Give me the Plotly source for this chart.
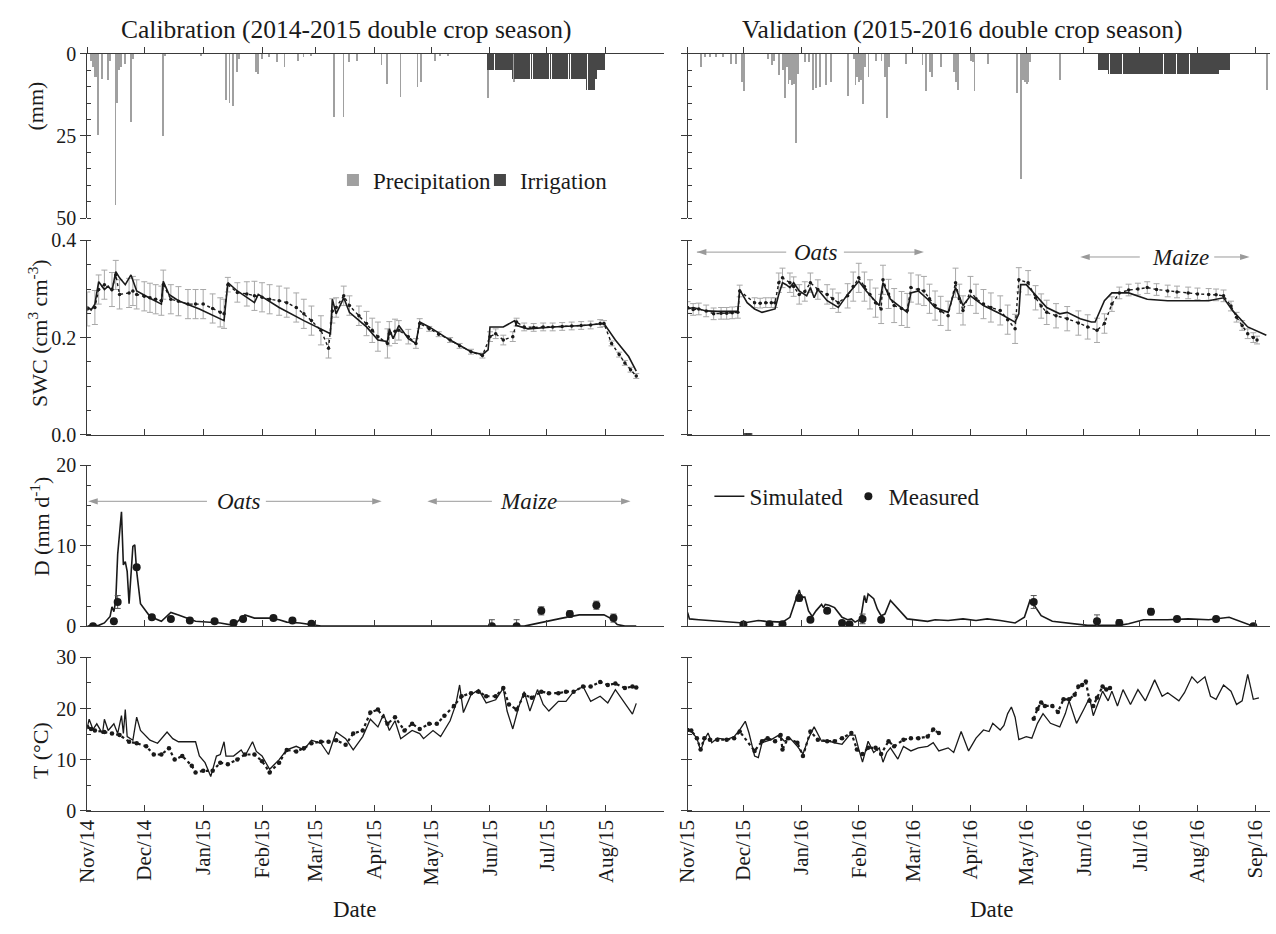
import pandas as pd
import plotly.graph_objects as go

SERIF = "Liberation Serif"
INK = "#1a1a1a"
AXIS = "#3a3a3a"
RAIN = "#a0a0a0"
IRRIG = "#474747"
ERR = "#a8a8a8"
ARROW = "#9a9a9a"

CAL_START, CAL_END = "2014-11-01", "2015-08-31 12:00"
VAL_START, VAL_END = "2015-11-01", "2016-09-09"

# ---------------- rainfall events: (day of season, mm) ----------------
cal_rain = [(2, 2.0), (3, 4.0), (4, 7.0), (5, 7.0), (6, 24.7), (8, 7.5), (11, 8.0), (12, 2.0),
            (15, 46.0), (16, 15.0), (17, 5.0), (18, 4.0), (20, 3.0), (23, 20.7), (24, 1.5),
            (40, 25.0), (41, 0.5), (60, 0.5), (73, 14.0), (75, 15.0), (77, 16.0), (79, 5.5),
            (80, 1.5), (89, 5.5), (90, 6.0), (92, 1.5), (96, 1.0), (100, 2.5), (104, 4.0),
            (111, 2.0), (114, 1.0), (118, 0.5), (130, 19.3), (135, 19.3), (138, 2.5), (142, 2.0),
            (155, 3.5), (158, 9.0), (165, 13.0), (174, 10.0), (176, 8.5), (183, 2.0), (186, 0.5),
            (190, 0.5), (211, 13.5), (225, 8.5)]
val_rain = [(7, 4.0), (9, 1.0), (12, 1.0), (15, 1.0), (19, 1.0), (23, 3.0), (26, 3.0), (29, 8.5),
            (30, 11.4), (43, 1.5), (45, 3.5), (46, 2.0), (49, 6.5), (51, 5.0), (52, 13.3), (53, 4.0),
            (54, 9.0), (55, 8.0), (56, 9.4), (57, 9.0), (58, 27.0), (59, 6.0), (63, 2.5), (65, 2.5),
            (67, 11.0), (69, 10.4), (71, 10.0), (74, 9.4), (77, 8.4), (86, 12.8), (89, 1.5),
            (90, 9.4), (91, 7.0), (92, 8.4), (93, 8.0), (94, 15.3), (95, 4.0), (97, 7.0), (101, 2.0),
            (104, 2.0), (106, 7.0), (107, 19.6), (108, 4.0), (117, 3.0), (126, 3.5), (128, 11.4),
            (130, 5.4), (131, 7.0), (136, 4.0), (143, 5.4), (144, 8.4), (145, 11.0), (152, 2.0),
            (153, 2.5), (154, 11.4), (161, 3.0), (177, 11.9), (179, 38.0), (180, 8.0), (181, 8.4),
            (182, 9.0), (183, 8.4), (184, 2.5), (200, 8.0), (311, 11.0)]

# ---------------- daily irrigation (mm), starting on the given day ----------------
cal_irr_first_day = 211
cal_irr_mm = [5, 5, 5, 5, 5, 5, 5, 5, 5, 5, 5, 5, 5,
              7.5, 7.5, 7.5, 7.5, 7.5, 7.5, 7.5, 7.5, 7.5, 7.5, 7.5, 7.5, 7.5, 7.5, 7.5, 7.5, 7.5,
              7.5, 7.5, 7.5, 7.5, 7.5, 7.5, 7.5, 7.5, 7.5, 7.5, 7.5, 7.5, 7.5, 7.5, 7.5, 7.5, 7.5,
              7.5, 7.5, 7.5, 7.5, 7.5,
              11, 11, 11, 11, 11, 7.5, 5, 5, 5, 5]
val_irr_first_day = 221
val_irr_mm = [5, 5, 5, 5, 5,
              6.1, 6.1, 6.1, 6.1, 6.1, 6.1, 6.1, 6.1, 6.1, 6.1, 6.1, 6.1, 6.1, 6.1, 6.1,
              6.1, 6.1, 6.1, 6.1, 6.1, 6.1, 6.1, 6.1, 6.1, 6.1, 6.1, 6.1, 6.1, 6.1, 6.1,
              6.1, 6.1, 6.1, 6.1, 6.1, 6.1, 6.1, 6.1, 6.1, 6.1, 6.1, 6.1, 6.1, 6.1, 6.1,
              6.1, 6.1, 6.1, 6.1, 6.1, 6.1, 6.1, 6.1, 6.1, 6.1, 6.1, 6.1, 6.1, 6.1, 6.1,
              5, 5, 5, 5, 5, 5]

# ---------------- soil water content (cm3 cm-3) ----------------
cal_swc_sim = [(0, .264), (2, .257), (4, .269), (6, .315), (9, .299), (11, .306), (13, .296),
               (15, .336), (17, .323), (20, .309), (23, .329), (26, .296), (33, .281), (39, .269),
               (40, .316), (43, .289), (48, .276), (59, .259), (72, .235), (74, .313), (79, .296),
               (88, .272), (90, .289), (101, .262), (114, .235), (128, .208), (129, .279),
               (131, .249), (135, .282), (138, .252), (147, .222), (153, .195), (158, .192),
               (159, .218), (161, .198), (164, .225), (169, .198), (173, .188), (175, .232),
               (180, .222), (191, .195), (202, .171), (208, .165), (211, .175), (212, .222),
               (219, .222), (225, .235), (226, .225), (232, .218), (245, .222), (261, .225),
               (272, .229), (278, .195), (285, .161), (289, .131)]
# (day, mean, standard deviation)
cal_swc_meas = [(0, .259, .035), (4, .262, .035), (6, .299, .03), (9, .309, .03), (13, .299, .035),
                (15, .329, .03), (17, .289, .03), (22, .292, .03), (24, .296, .03), (26, .289, .03),
                (30, .285, .03), (33, .282, .03), (36, .279, .03), (39, .276, .03), (40, .309, .03),
                (44, .279, .03), (48, .275, .03), (53, .269, .03), (57, .269, .03), (61, .269, .03),
                (66, .260, .03), (70, .252, .03), (72, .249, .03), (74, .309, .015), (79, .293, .02),
                (84, .290, .025), (88, .286, .03), (92, .283, .03), (96, .279, .03), (101, .276, .03),
                (105, .272, .03), (110, .262, .03), (114, .249, .03), (118, .235, .03),
                (123, .215, .03), (127, .178, .02), (129, .255, .025), (131, .262, .02),
                (135, .286, .02), (138, .266, .02), (143, .245, .02), (147, .229, .025),
                (150, .215, .025), (153, .202, .03), (158, .188, .03), (159, .208, .025),
                (162, .213, .025), (164, .215, .02), (169, .202, .015), (173, .188, .01),
                (175, .229, .01), (180, .218, .005), (185, .207, .005), (191, .195, .005),
                (196, .183, .005), (202, .171, .005), (208, .163, .005), (212, .202, .01),
                (215, .208, .01), (219, .195, .01), (224, .202, .01), (226, .232, .008),
                (230, .222, .008), (235, .221, .008), (240, .222, .008), (245, .222, .008),
                (250, .223, .008), (255, .224, .008), (260, .225, .008), (265, .226, .008),
                (270, .229, .008), (272, .229, .006), (276, .188, .005), (280, .165, .005),
                (283, .148, .005), (286, .134, .005), (289, .121, .005)]
val_swc_sim = [(0, .259), (3, .262), (10, .255), (16, .254), (27, .254), (28, .299), (32, .272),
               (36, .259), (40, .252), (47, .259), (49, .289), (51, .313), (53, .309), (55, .303),
               (57, .313), (60, .296), (64, .286), (66, .303), (68, .282), (70, .299), (75, .276),
               (81, .262), (86, .289), (92, .316), (96, .296), (103, .266), (105, .313), (109, .279),
               (118, .252), (120, .292), (124, .296), (129, .279), (133, .262), (140, .252),
               (144, .303), (148, .266), (152, .286), (159, .266), (168, .249), (176, .232),
               (178, .249), (179, .309), (182, .309), (185, .296), (193, .262), (200, .249),
               (204, .252), (211, .239), (217, .232), (219, .232), (224, .276), (228, .292),
               (237, .292), (247, .279), (258, .276), (280, .276), (288, .282), (293, .255),
               (301, .222), (311, .205)]
val_swc_meas = [(0, .262, .012), (3, .258, .012), (6, .259, .012), (10, .255, .012), (14, .249, .012),
                (18, .250, .012), (21, .250, .012), (24, .251, .012), (27, .252, .012), (28, .296, .012),
                (36, .272, .01), (39, .271, .01), (42, .272, .01), (45, .272, .01), (47, .272, .01),
                (49, .313, .02), (51, .323, .02), (55, .313, .02), (57, .305, .02), (60, .289, .02),
                (63, .295, .02), (66, .313, .02), (70, .299, .02), (75, .289, .02), (78, .280, .02),
                (81, .272, .02), (86, .286, .025), (89, .305, .03), (92, .323, .03), (95, .305, .03),
                (98, .289, .03), (101, .272, .03), (104, .259, .03), (105, .319, .03), (108, .290, .03),
                (111, .266, .035), (115, .260, .035), (118, .256, .035), (120, .303, .03),
                (124, .299, .03), (127, .296, .03), (130, .280, .03), (133, .266, .03),
                (136, .255, .03), (140, .245, .03), (144, .313, .03), (146, .280, .03),
                (148, .256, .03), (152, .296, .03), (155, .280, .03), (159, .269, .03),
                (163, .262, .03), (168, .256, .03), (172, .237, .03), (176, .218, .03),
                (178, .319, .025), (183, .313, .025), (187, .282, .025), (190, .265, .025),
                (193, .252, .025), (198, .245, .025), (204, .239, .025), (210, .230, .025),
                (215, .222, .025), (220, .215, .025), (224, .229, .02), (228, .269, .015),
                (232, .292, .012), (237, .298, .012), (242, .300, .012), (247, .303, .012),
                (252, .299, .012), (258, .296, .012), (263, .294, .012), (269, .292, .012),
                (274, .290, .012), (280, .289, .012), (284, .288, .012), (288, .286, .012),
                (292, .265, .01), (295, .242, .01), (298, .225, .01), (301, .208, .01),
                (304, .200, .01), (306, .195, .008)]
# sensor outage logged as zero
val_swc_zero_days = [31, 32, 33, 34]

# ---------------- drainage (mm d-1) ----------------
cal_d_sim = [(0, 0), (6, 0.1), (9, 0.4), (12, 1.2), (13, 2.4), (14, 1.8), (15, 3.2), (16, 8.9),
             (18, 14.2), (19, 7.6), (20, 8.0), (21, 6.8), (22, 2.8), (24, 9.9), (25, 10.1),
             (26, 6.8), (28, 2.8), (33, 1.2), (39, 0.6), (44, 1.7), (48, 1.4), (57, 0.6), (70, 0.4),
             (77, 0.1), (81, 1.0), (83, 1.4), (88, 1.0), (96, 1.0), (101, 0.8), (105, 0.5),
             (112, 0.4), (123, 0), (230, 0), (241, 0.6), (250, 1.0), (259, 1.4), (272, 1.4),
             (276, 0.9), (279, 0.2), (283, 0), (289, 0)]
cal_d_meas = [(3, 0.0, 0), (14, 0.6, 0), (16, 3.0, 0.8), (26, 7.3, 0), (34, 1.1, 0.2), (44, 0.9, 0),
              (54, 0.7, 0), (67, 0.6, 0), (77, 0.4, 0), (82, 0.9, 0), (98, 1.0, 0), (108, 0.7, 0),
              (118, 0.3, 0), (213, 0.0, 0.8), (226, 0.0, 0.8), (239, 1.9, 0.5), (254, 1.5, 0.4),
              (268, 2.6, 0.5), (277, 1.0, 0.5)]
val_d_sim = [(0, 1.7), (1, 0.9), (6, 0.8), (21, 0.6), (30, 0.4), (38, 0.7), (42, 0.6), (51, 0.5),
             (55, 1.1), (58, 3.2), (60, 4.5), (61, 3.6), (63, 3.6), (65, 1.9), (67, 1.2), (69, 1.9),
             (72, 2.7), (73, 2.3), (74, 2.7), (76, 2.6), (79, 2.3), (83, 1.1), (86, 0.8), (88, 0.9),
             (90, 0.5), (93, 0.9), (95, 3.8), (96, 2.9), (97, 4.0), (100, 3.4), (102, 2.1),
             (104, 1.3), (106, 1.5), (109, 3.2), (114, 1.9), (118, 0.9), (129, 0.6), (133, 0.8),
             (140, 0.7), (148, 0.9), (155, 0.7), (161, 0.9), (168, 0.7), (176, 0.4), (181, 1.1),
             (184, 3.2), (186, 2.7), (190, 1.3), (196, 0.6), (206, 0.3), (215, 0.1), (232, 0.1),
             (237, 0.3), (245, 0.8), (258, 0.8), (269, 0.9), (280, 0.8), (291, 1.1), (297, 0.6),
             (304, 0.0), (306, 0.0)]
val_d_meas = [(30, 0.2, 0), (44, 0.25, 0), (51, 0.25, 0), (60, 3.5, 0.4), (66, 0.8, 0),
              (75, 1.9, 0.3), (83, 0.4, 0), (87, 0.25, 0), (94, 0.9, 0.6), (104, 0.8, 0),
              (186, 3.0, 0.8), (220, 0.6, 0.8), (232, 0.4, 0.4), (249, 1.8, 0.4), (263, 0.9, 0.3),
              (284, 0.9, 0.3), (304, 0.0, 0)]

# ---------------- soil temperature (deg C) ----------------
cal_t_sim = [(0, 16.4), (1, 17.9), (3, 15.9), (5, 17.0), (8, 15.1), (9, 17.9), (11, 15.7),
             (14, 17.0), (16, 15.1), (18, 18.6), (19, 15.1), (20, 19.8), (21, 14.5), (24, 13.8),
             (26, 18.3), (28, 15.7), (33, 13.8), (37, 13.2), (42, 15.4), (45, 14.1), (48, 13.5),
             (57, 13.5), (59, 10.7), (62, 9.4), (65, 6.7), (68, 10.7), (70, 11.0), (72, 13.5),
             (73, 10.7), (77, 10.7), (81, 11.9), (83, 10.7), (87, 13.5), (89, 11.6), (92, 10.7),
             (96, 8.1), (101, 10.0), (105, 11.9), (110, 12.6), (114, 11.9), (118, 13.8),
             (123, 13.2), (127, 11.0), (131, 15.4), (136, 14.1), (140, 11.9), (145, 14.5),
             (149, 17.9), (153, 16.4), (156, 18.9), (159, 15.7), (162, 17.6), (165, 14.1),
             (171, 15.7), (175, 15.1), (177, 14.1), (182, 15.7), (186, 14.5), (191, 17.6),
             (194, 20.8), (196, 24.6), (198, 19.2), (202, 22.7), (206, 23.7), (210, 21.1),
             (215, 21.7), (219, 24.0), (221, 19.5), (224, 16.0), (227, 20.2), (230, 23.3),
             (233, 19.5), (237, 23.7), (240, 20.8), (243, 19.5), (248, 21.4), (252, 21.4),
             (256, 23.3), (261, 24.3), (265, 21.4), (270, 22.4), (274, 21.1), (278, 23.7),
             (283, 21.1), (287, 18.9), (289, 21.0)]
cal_t_meas = [(0, 16.4), (2, 16.0), (4, 15.7), (9, 15.4), (13, 15.1), (17, 14.8), (22, 13.5),
              (26, 13.2), (31, 12.6), (35, 11.0), (39, 11.0), (43, 12.2), (46, 10.0), (50, 10.7),
              (55, 8.8), (57, 7.5), (61, 7.8), (66, 7.8), (70, 9.4), (74, 9.1), (79, 10.0),
              (83, 11.0), (88, 11.0), (92, 9.7), (96, 7.5), (101, 9.4), (105, 11.9), (110, 11.6),
              (114, 12.2), (118, 13.2), (123, 13.5), (127, 13.5), (131, 13.8), (136, 12.9),
              (140, 15.1), (145, 15.7), (149, 19.2), (153, 19.8), (158, 17.0), (162, 18.3),
              (167, 15.7), (171, 17.0), (175, 16.0), (180, 17.0), (184, 17.0), (188, 18.6),
              (193, 20.5), (197, 22.4), (202, 23.0), (206, 23.3), (210, 22.4), (215, 22.4),
              (219, 24.0), (222, 20.8), (226, 19.8), (230, 22.7), (234, 22.1), (239, 23.3),
              (243, 23.0), (248, 23.0), (252, 23.3), (256, 23.3), (261, 24.3), (265, 24.3),
              (270, 25.2), (274, 24.6), (278, 24.9), (283, 24.0), (287, 24.3), (289, 24.1)]
val_t_sim = [(0, 15.8), (2, 15.5), (5, 14.2), (7, 11.7), (9, 13.9), (11, 15.2), (13, 13.3),
             (16, 14.2), (21, 13.9), (25, 14.5), (28, 15.8), (31, 17.5), (33, 15.2), (36, 10.7),
             (38, 10.4), (40, 13.3), (45, 13.9), (49, 14.8), (52, 13.6), (55, 14.2), (59, 12.6),
             (62, 11.1), (65, 14.2), (68, 16.4), (72, 13.6), (76, 13.6), (79, 13.3), (83, 13.0),
             (87, 14.8), (90, 14.8), (92, 12.0), (94, 9.5), (97, 13.6), (100, 11.4), (103, 12.3),
             (105, 9.5), (107, 11.4), (109, 12.3), (113, 10.1), (116, 12.6), (120, 11.7),
             (124, 12.3), (129, 12.6), (132, 13.3), (135, 11.7), (140, 12.3), (143, 11.4),
             (147, 15.5), (151, 11.7), (155, 14.2), (159, 15.8), (162, 15.5), (164, 17.1),
             (168, 15.8), (170, 16.7), (172, 19.0), (174, 20.3), (176, 18.3), (178, 13.9),
             (182, 14.5), (185, 14.2), (188, 17.1), (191, 19.0), (195, 17.1), (200, 16.4),
             (203, 19.0), (205, 21.5), (209, 17.1), (213, 19.9), (216, 22.1), (218, 18.6),
             (223, 23.4), (226, 21.5), (228, 23.4), (231, 20.5), (234, 23.7), (238, 20.8),
             (242, 23.7), (246, 21.5), (251, 25.6), (255, 22.4), (258, 23.1), (264, 21.5),
             (267, 23.1), (271, 26.2), (274, 25.0), (278, 26.2), (281, 22.4), (284, 21.8),
             (288, 24.6), (292, 23.4), (295, 20.8), (298, 21.5), (301, 26.7), (304, 21.8),
             (307, 22.1)]
# two logging campaigns
val_t_meas = [
    [(0, 15.8), (2, 15.7), (5, 14.2), (7, 12.0), (9, 14.2), (12, 13.9), (16, 13.9), (21, 13.9),
     (25, 14.2), (28, 15.5), (36, 11.7), (40, 13.6), (43, 14.2), (47, 13.6), (50, 14.8),
     (51, 12.0), (54, 14.2), (59, 13.3), (62, 10.7), (66, 15.5), (70, 13.9), (75, 13.6),
     (79, 13.6), (83, 14.2), (88, 15.2), (91, 12.0), (94, 11.1), (97, 12.3), (101, 12.3),
     (104, 11.1), (108, 13.6), (111, 12.6), (116, 13.9), (120, 14.2), (124, 14.2), (129, 14.5),
     (132, 15.9), (135, 15.2)],
    [(186, 18.0), (188, 19.9), (190, 21.2), (192, 20.5), (196, 20.5), (199, 19.3), (202, 21.8),
     (205, 21.8), (208, 22.7), (210, 24.3), (212, 24.6), (214, 25.3), (216, 21.5), (218, 20.5),
     (220, 22.1), (223, 24.3), (225, 23.7), (227, 24.0)],
]

# ---------------- crop-period arrows: (from day, to day) and level ----------------
cal_crop_arrows = [(63, 0.5), (94, 155), (213, 179), (246, 286)]
cal_crop_arrow_level = 15.5
val_oats_arrows = [(53, 5), (84, 127)]
val_oats_level = 0.376
val_maize_arrows = [(243, 211), (283, 302)]
val_maize_level = 0.366


def on_days(start, days):
    return pd.Timestamp(start) + pd.to_timedelta(list(days), unit="D")


def cols(rows):
    return [list(c) for c in zip(*rows)]


DAY_MS = 86400000
fig = go.Figure()


def axis_ids(row, col):
    n = (row - 1) * 2 + col
    s = "" if n == 1 else str(n)
    return "x" + s, "y" + s


def add_rain(col, start, rain, irr_first, irr_mm, legend):
    xa, ya = axis_ids(1, col)
    d, mm = cols(rain)
    fig.add_trace(go.Bar(x=on_days(start, d), y=mm, width=0.45 * DAY_MS, marker_color=RAIN,
                         marker_line_width=0, name="Precipitation", xaxis=xa, yaxis=ya,
                         showlegend=legend, legendgroup="p"))
    irr_days = range(irr_first, irr_first + len(irr_mm))
    fig.add_trace(go.Bar(x=on_days(start, irr_days), y=irr_mm, width=0.42 * DAY_MS,
                         marker_color=IRRIG, marker_line_width=0, name="Irrigation",
                         xaxis=xa, yaxis=ya, showlegend=legend, legendgroup="i"))


def add_sim(row, col, start, rows, legend=False, width=1.6):
    xa, ya = axis_ids(row, col)
    d, v = cols(rows)
    fig.add_trace(go.Scatter(x=on_days(start, d), y=v, mode="lines",
                             line=dict(color=INK, width=width), name="Simulated",
                             xaxis=xa, yaxis=ya, showlegend=legend, legend="legend2"))


def add_meas_err(row, col, start, rows, size, err_color, dotted=False, legend=False):
    xa, ya = axis_ids(row, col)
    d, v, e = cols(rows)
    fig.add_trace(go.Scatter(x=on_days(start, d), y=v,
                             mode="lines+markers" if dotted else "markers",
                             line=dict(color=INK, width=1.4, dash="dot"),
                             marker=dict(color=INK, size=size),
                             error_y=dict(type="data", array=e, color=err_color, thickness=1,
                                          width=3),
                             name="Measured", xaxis=xa, yaxis=ya, showlegend=legend,
                             legend="legend2"))


def add_meas_plain(row, col, start, rows):
    xa, ya = axis_ids(row, col)
    d, v = cols(rows)
    fig.add_trace(go.Scatter(x=on_days(start, d), y=v, mode="lines+markers",
                             line=dict(color=INK, width=2.2, dash="dot"),
                             marker=dict(color=INK, size=4.5), xaxis=xa, yaxis=ya,
                             showlegend=False))


def add_arrows(row, col, start, spans, level):
    xa, ya = axis_ids(row, col)
    for d0, d1 in spans:
        fig.add_trace(go.Scatter(x=on_days(start, [d0, d1]), y=[level, level],
                                 mode="lines+markers", line=dict(color=ARROW, width=1),
                                 marker=dict(symbol="arrow", angleref="previous", size=10,
                                             color=ARROW),
                                 xaxis=xa, yaxis=ya, showlegend=False, hoverinfo="skip"))


# precipitation / irrigation
add_rain(1, CAL_START, cal_rain, cal_irr_first_day, cal_irr_mm, True)
add_rain(2, VAL_START, val_rain, val_irr_first_day, val_irr_mm, False)

# soil water content
add_arrows(2, 2, VAL_START, val_oats_arrows, val_oats_level)
add_arrows(2, 2, VAL_START, val_maize_arrows, val_maize_level)
add_meas_err(2, 1, CAL_START, cal_swc_meas, 3.5, ERR, dotted=True)
add_sim(2, 1, CAL_START, cal_swc_sim)
add_meas_err(2, 2, VAL_START, val_swc_meas, 3.5, ERR, dotted=True)
add_sim(2, 2, VAL_START, val_swc_sim)
xa, ya = axis_ids(2, 2)
fig.add_trace(go.Scatter(x=on_days(VAL_START, val_swc_zero_days), y=[0] * len(val_swc_zero_days),
                         mode="markers", marker=dict(color=INK, size=3, symbol="square"),
                         xaxis=xa, yaxis=ya, showlegend=False))

# drainage
add_arrows(3, 1, CAL_START, cal_crop_arrows, cal_crop_arrow_level)
add_sim(3, 1, CAL_START, cal_d_sim)
add_meas_err(3, 1, CAL_START, cal_d_meas, 8, "#555555")
add_sim(3, 2, VAL_START, val_d_sim, legend=True)
add_meas_err(3, 2, VAL_START, val_d_meas, 8, "#555555", legend=True)

# temperature
add_sim(4, 1, CAL_START, cal_t_sim, width=1.3)
add_meas_plain(4, 1, CAL_START, cal_t_meas)
add_sim(4, 2, VAL_START, val_t_sim, width=1.3)
for seg in val_t_meas:
    add_meas_plain(4, 2, VAL_START, seg)

# ---------------- axes ----------------
W, H = 1276, 934
X_DOM = {1: [76 / W, 658 / W], 2: [682 / W, 1270 / W]}
Y_DOM = {1: [1 - 212 / H, 1 - 44 / H], 2: [1 - 434 / H, 1 - 235 / H],
         3: [1 - 630 / H, 1 - 465 / H], 4: [1 - 819 / H, 1 - 662 / H]}
Y_RANGE = {1: [50, 0], 2: [0, 0.4], 3: [0, 20], 4: [0, 30]}
Y_DTICK = {1: 25, 2: 0.2, 3: 10, 4: 10}
Y_MINOR = {1: 5, 2: 0.05, 3: 2.5, 4: 5}
Y_FMT = {1: "d", 2: ".1f", 3: "d", 4: "d"}
TICKFONT = dict(family=SERIF, size=20, color=INK)
XTICKFONT = dict(family=SERIF, size=21, color=INK)

layout = {}
for r in range(1, 5):
    for c in (1, 2):
        xa, ya = axis_ids(r, c)
        start, end = (CAL_START, CAL_END) if c == 1 else (VAL_START, VAL_END)
        layout["xaxis" + xa[1:]] = dict(
            domain=X_DOM[c], anchor=ya, type="date", range=[start, end], tick0=start[:10],
            dtick="M1", tickformat="%b/%y", tickangle=-90, showticklabels=(r == 4),
            ticks="outside" if r == 1 else "inside", ticklen=6, tickcolor=AXIS,
            side="top" if r == 1 else "bottom", showline=True, linecolor=AXIS, linewidth=1,
            showgrid=False, zeroline=False, tickfont=XTICKFONT, fixedrange=True)
        layout["yaxis" + ya[1:]] = dict(
            domain=Y_DOM[r], anchor=xa, range=Y_RANGE[r], tick0=0, dtick=Y_DTICK[r],
            tickformat=Y_FMT[r], ticks="outside", ticklen=6, tickcolor=AXIS,
            minor=dict(dtick=Y_MINOR[r], tick0=0, ticks="inside", ticklen=4, tickcolor=AXIS),
            showline=True, linecolor=AXIS, linewidth=1, showgrid=False, zeroline=False,
            showticklabels=(c == 1), tickfont=TICKFONT, fixedrange=True)


def text(x, y, s, size, angle=0, italic=False):
    return dict(x=x / W, y=1 - y / H, xref="paper", yref="paper", text=s, showarrow=False,
                textangle=angle, xanchor="center", yanchor="middle",
                font=dict(family=SERIF, size=size, color=INK,
                          style="italic" if italic else "normal"))


annotations = [
    text(337, 19, "Calibration (2014-2015 double crop season)", 25.5),
    text(960, 19, "Validation (2015-2016 double crop season)", 25.5),
    text(24, 97, "(mm)", 22, -90),
    text(26, 330, "SWC (cm<sup>3</sup> cm<sup>-3</sup>)", 22, -90),
    text(28, 528, "D (mm d<sup>-1</sup>)", 22, -90),
    text(28, 757, "T (°C)", 22, -90),
    text(346, 920, "Date", 23),
    text(989, 920, "Date", 23),
    text(229, 502, "Oats", 23, italic=True),
    text(521, 502, "Maize", 23, italic=True),
    text(812, 247, "Oats", 23, italic=True),
    text(1180, 252, "Maize", 23, italic=True),
]

fig.update_layout(
    **layout,
    width=W, height=H, autosize=False,
    margin=dict(l=0, r=0, t=0, b=0),
    paper_bgcolor="white", plot_bgcolor="white",
    barmode="overlay", bargap=0,
    font=dict(family=SERIF, color=INK),
    annotations=annotations,
    legend=dict(x=324 / W, y=1 - 173 / H, xanchor="left", yanchor="middle",
                orientation="h", bgcolor="rgba(0,0,0,0)", itemwidth=30, entrywidth=102,
                font=dict(family=SERIF, size=23, color=INK)),
    legend2=dict(x=704 / W, y=1 - 497 / H, xanchor="left", yanchor="middle",
                 orientation="h", bgcolor="rgba(0,0,0,0)", itemwidth=30, entrywidth=94,
                 font=dict(family=SERIF, size=23, color=INK)),
)

fig.write_html("out.html")
